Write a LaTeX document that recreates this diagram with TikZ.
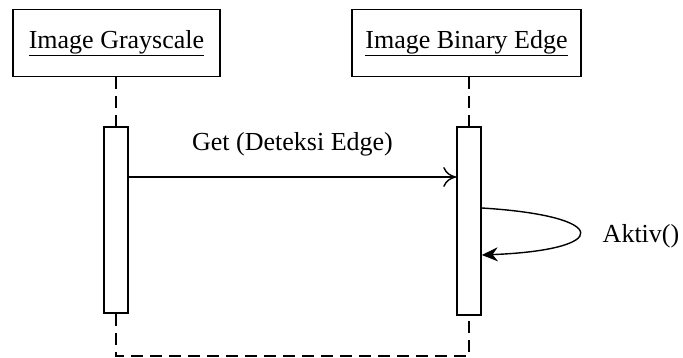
\documentclass[tikz,border=0pt]{standalone}
\usepackage{fontspec}
\setmainfont{Liberation Serif}
\usetikzlibrary{arrows.meta}
\begin{document}
\begin{tikzpicture}[x=1pt,y=-1pt,
 obj/.style={draw, line width=1.8pt, minimum height=67pt, inner sep=0pt, font=\fontsize{26}{30}\selectfont},
 act/.style={draw, line width=1.6pt, minimum width=24pt, inner sep=0pt, fill=white},
 life/.style={line width=1.6pt, dash pattern=on 12pt off 7pt},
 msg/.style={line width=1.4pt},
 lbl/.style={font=\fontsize{26}{30}\selectfont, inner sep=0pt}]
\useasboundingbox (0,0) rectangle (683,358);
\node[obj, minimum width=207pt] (g) at (116.5,43) {\underline{Image Grayscale}};
\node[obj, minimum width=229pt] (b) at (466.5,43) {\underline{Image Binary Edge}};
\node[act, minimum height=186pt] (a1) at (116,220) {};
\node[act, minimum height=188pt] (a2) at (469,221) {};
\coordinate (c1) at (116,356);
\coordinate (c2) at (469,356);
\draw[life] (g.south -| a1.north) -- (a1.north);
\draw[life] (b.south -| a2.north) -- (a2.north);
\draw[life] (a1.south) -- (c1) -- (c2) -- (a2.south);
\draw[msg, -{To[length=13pt,width=20pt]}] (a1.east |- 0,177) -- node[lbl, above=20pt] {Get (Deteksi Edge)} (a2.west |- 0,177);
\draw[msg, -{Stealth[length=16pt,width=14pt]}] (a2.east |- 0,208) .. controls (612,216) and (612,250) .. (a2.east |- 0,255);
\node[lbl] (ak) at (641,236) {Aktiv()};
\end{tikzpicture}
\end{document}
